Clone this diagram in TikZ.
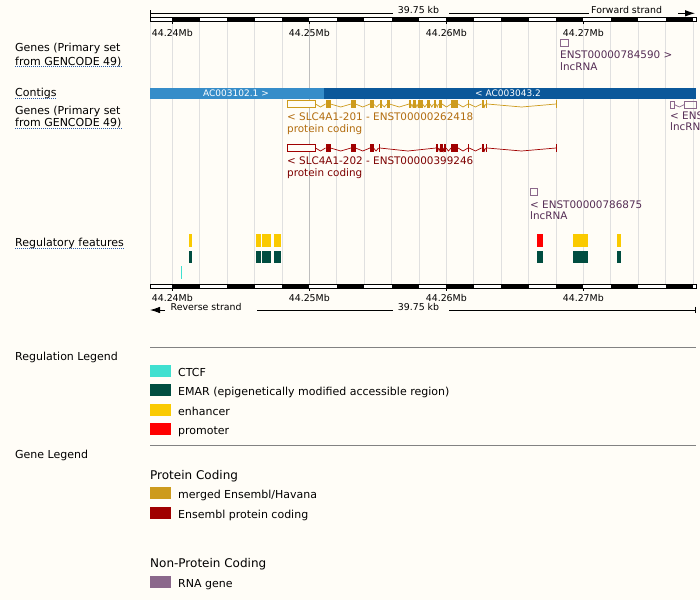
\documentclass[tikz,border=0pt]{standalone}
\usepackage{fontspec}
\setmainfont{DejaVu Sans}
\usetikzlibrary{arrows.meta}

\definecolor{bgcol}{RGB}{255,253,247}
\definecolor{gridcol}{RGB}{224,224,224}
\definecolor{gridmaj}{RGB}{190,190,190}
\definecolor{ensgold}{RGB}{205,155,29}
\definecolor{ensgoldtxt}{RGB}{178,108,14}
\definecolor{ensred}{RGB}{160,0,0}
\definecolor{ensredtxt}{RGB}{125,0,0}
\definecolor{rnagene}{RGB}{139,104,139}
\definecolor{rnatxt}{RGB}{85,45,85}
\definecolor{contiga}{RGB}{54,141,201}
\definecolor{contigb}{RGB}{11,88,154}
\definecolor{ctcf}{RGB}{64,224,208}
\definecolor{emar}{RGB}{0,77,64}
\definecolor{enhancer}{RGB}{250,202,0}
\definecolor{promoter}{RGB}{255,0,0}
\definecolor{linkblue}{RGB}{40,90,170}
\definecolor{legline}{RGB}{130,130,130}

\tikzset{
  lbl/.style={anchor=west, inner sep=0pt, text height=8pt, text depth=0pt, font=\fontsize{11}{13}\selectfont},
  small/.style={lbl, text height=6.9pt, font=\fontsize{9.4}{11}\selectfont},
  glbl/.style={lbl, text height=7.6pt, font=\fontsize{10.4}{12}\selectfont},
  head/.style={lbl, text height=8.8pt, font=\fontsize{12}{14}\selectfont},
  ctg/.style={anchor=center, inner sep=0pt, text height=6.6pt, text depth=0pt, white, font=\fontsize{9}{11}\selectfont},
  swatch/.style={anchor=west, minimum width=21pt, minimum height=11.5pt, inner sep=0pt},
  dotline/.style={linkblue, line width=0.8pt, dash pattern=on 1pt off 1pt},
  intron/.style={line width=0.7pt},
  strand/.style={line width=0.8pt, -{Latex[length=10pt,width=6.5pt]}},
}

\begin{document}
\begin{tikzpicture}[x=1pt, y=-1pt]
  \fill[bgcol] (0,0) rectangle (700,600);
  \useasboundingbox (0,0) rectangle (700,600);

  % grid lines
  \draw[gridcol, line width=0.8pt] (150,21.5) -- (150,284.5);
  \foreach \k in {0,...,19}
    \draw[gridcol, line width=0.8pt] ({172.3+27.4*\k},21.5) -- ({172.3+27.4*\k},284.5);
  \draw[gridmaj, line width=0.8pt] (309.3,21.5) -- (309.3,284.5);

  % rulers
  \foreach \y in {17.5,284.5} {
    \fill[white] (150,\y) rectangle (696,{\y+4});
    \foreach \k in {0,2,...,18}
      \fill ({172.3+27.4*\k},\y) rectangle ({172.3+27.4*(\k+1)},{\y+4});
    \draw[line width=0.8pt] (150,\y) rectangle (696,{\y+4});
  }

  \foreach \m/\lab in {0/44.24Mb, 1/44.25Mb, 2/44.26Mb, 3/44.27Mb} {
    \draw[line width=0.8pt] ({172.3+137*\m},21.5) -- ++(0,2);
    \node[small, anchor=center] (top\m) at ({172.3+137*\m},33) {\lab};
    \draw[line width=0.8pt] ({172.3+137*\m},288.5) -- ++(0,2);
    \node[small, anchor=center] (bot\m) at ({172.3+137*\m},298) {\lab};
  }

  % scale bars
  \node[small, anchor=center] (lentop) at (418.5,10.5) {39.75 kb};
  \node[small] (fwd) at (591,10.5) {Forward strand};
  \draw[line width=0.8pt] (150,10) -- (150,16.5);
  \draw[line width=0.8pt] (150,13.3) -- (393,13.3);
  \draw[line width=0.8pt] (449,13.3) -- (589,13.3);
  \draw[strand] (678,13.3) -- (695,13.3);

  \node[small, anchor=center] (lenbot) at (418.5,307.5) {39.75 kb};
  \node[small] (rev) at (170.5,307.5) {Reverse strand};
  \draw[strand] (165,310) -- (150,310);
  \draw[line width=0.8pt] (257,310) -- (393,310);
  \draw[line width=0.8pt] (449,310) -- (695,310);
  \draw[line width=0.8pt] (695,306.7) -- (695,313.3);

  % track names
  \node[lbl] (gn1a) at (15,47.7) {Genes (Primary set};
  \node[lbl] (gn1b) at (15,61) {from GENCODE 49)};
  \node[lbl] (ctgname) at (15,92.7) {Contigs};
  \node[lbl] (gn2a) at (15,110) {Genes (Primary set};
  \node[lbl] (gn2b) at (15,122.7) {from GENCODE 49)};
  \node[lbl] (regname) at (15,242.7) {Regulatory features};
  \foreach \n in {gn1b, ctgname, gn2b, regname}
    \draw[dotline] ([yshift=-1.3pt]\n.south west) -- ([yshift=-1.3pt]\n.south east);

  % forward lncRNA
  \draw[rnagene, line width=0.8pt] (560.5,39) rectangle (568.3,46.5);
  \node[glbl, rnatxt] (lnc1a) at (560,55) {ENST00000784590 >};
  \node[glbl, rnatxt] (lnc1b) at (560,66.5) {lncRNA};

  % contigs
  \fill[contiga] (150,87.5) rectangle (324.3,98.5);
  \fill[contigb] (324.3,87.5) rectangle (696,98.5);
  \node[ctg] (ctga) at (236,93) {AC003102.1 >};
  \node[ctg] (ctgb) at (508,93) {< AC003043.2};

  % SLC4A1-201
  \draw[ensgold, line width=0.8pt, fill=bgcol] (287.8,100.5) rectangle (315.5,107.5);
  \foreach \a/\b [remember=\b as \p (initially 315.5)] in {325.5/330.5, 351/355.5, 370/373.5, 379.5/381.5, 387/389.5, 409/411.2, 413/415.8, 418/422.5, 427/430, 433.5/436, 438.5/442, 451/458, 468/469.2, 481.5/483.5, 485.5/487.2, 556/557.3} {
    \draw[ensgold, intron] (\p,104) -- ({(\p+\a)/2},107) -- (\a,104);
    \fill[ensgold] (\a,100) rectangle (\b,108);
  }
  \node[glbl, ensgoldtxt] (t201a) at (287,116.7) {< SLC4A1-201 - ENST00000262418};
  \node[glbl, ensgoldtxt] (t201b) at (287,128.3) {protein coding};

  % SLC4A1-202
  \draw[ensred, line width=0.8pt, fill=bgcol] (287.8,144.5) rectangle (315.5,151.5);
  \foreach \a/\b [remember=\b as \p (initially 315.5)] in {325.5/330.5, 351/355.5, 370/373.5, 378.5/379.8, 436/438.3, 440/442.7, 444/446, 451/458, 468/469.2, 481.5/483.5, 485.5/487, 556/557.3} {
    \draw[ensred, intron] (\p,148) -- ({(\p+\a)/2},151) -- (\a,148);
    \fill[ensred] (\a,144) rectangle (\b,152);
  }
  \node[glbl, ensredtxt] (t202a) at (287,161) {< SLC4A1-202 - ENST00000399246};
  \node[glbl, ensredtxt] (t202b) at (287,172.7) {protein coding};

  % reverse lncRNAs
  \draw[rnagene, line width=0.8pt] (670.5,101) rectangle (674.2,108);
  \draw[rnagene, intron] (674.2,104.5) -- (679.3,107) -- (684.5,104.5);
  \draw[rnagene, line width=0.8pt] (684.5,101) rectangle (696,108);
  \node[glbl, rnatxt] (lnc2a) at (670,116) {< ENS};
  \node[glbl, rnatxt] (lnc2b) at (670,126.7) {lncRN};

  \draw[rnagene, line width=0.8pt] (530.7,188.3) rectangle (537.3,195.5);
  \node[glbl, rnatxt] (lnc3a) at (530,205) {< ENST00000786875};
  \node[glbl, rnatxt] (lnc3b) at (530,216) {lncRNA};

  % regulatory features
  \foreach \a/\b in {189/192.3, 255.7/260.7, 261.7/271, 274/281, 573/588, 617/621} {
    \fill[enhancer] (\a,234) rectangle (\b,246.5);
    \fill[emar] (\a,250.5) rectangle (\b,262.5);
  }
  \fill[promoter] (536.7,234) rectangle (543,246.5);
  \fill[emar] (536.7,250.5) rectangle (543,262.5);
  \fill[ctcf] (180.6,266) rectangle (181.8,279);

  % legend
  \draw[legline, line width=0.8pt] (150,347.3) -- (696,347.3);
  \node[lbl] (reglegend) at (15,356) {Regulation Legend};
  \foreach \c/\t/\y in {ctcf/CTCF/371, emar/EMAR (epigenetically modified accessible region)/390, enhancer/enhancer/410, promoter/promoter/429} {
    \node[swatch, fill=\c] (sw\c) at (150,\y) {};
    \node[lbl] (lg\c) at (178,{\y+1}) {\t};
  }
  \draw[legline, line width=0.8pt] (150,445.7) -- (696,445.7);
  \node[lbl] (genelegend) at (15,454) {Gene Legend};

  \node[head] (pchead) at (150,475) {Protein Coding};
  \node[swatch, fill=ensgold] (swgold) at (150,493.2) {};
  \node[lbl] (lggold) at (178,494) {merged Ensembl/Havana};
  \node[swatch, fill=ensred] (swred) at (150,513.2) {};
  \node[lbl] (lgred) at (178,514) {Ensembl protein coding};

  \node[head] (nphead) at (150,562.7) {Non-Protein Coding};
  \node[swatch, fill=rnagene] (swrna) at (150,582) {};
  \node[lbl] (lgrna) at (178,583) {RNA gene};
\end{tikzpicture}
\end{document}
